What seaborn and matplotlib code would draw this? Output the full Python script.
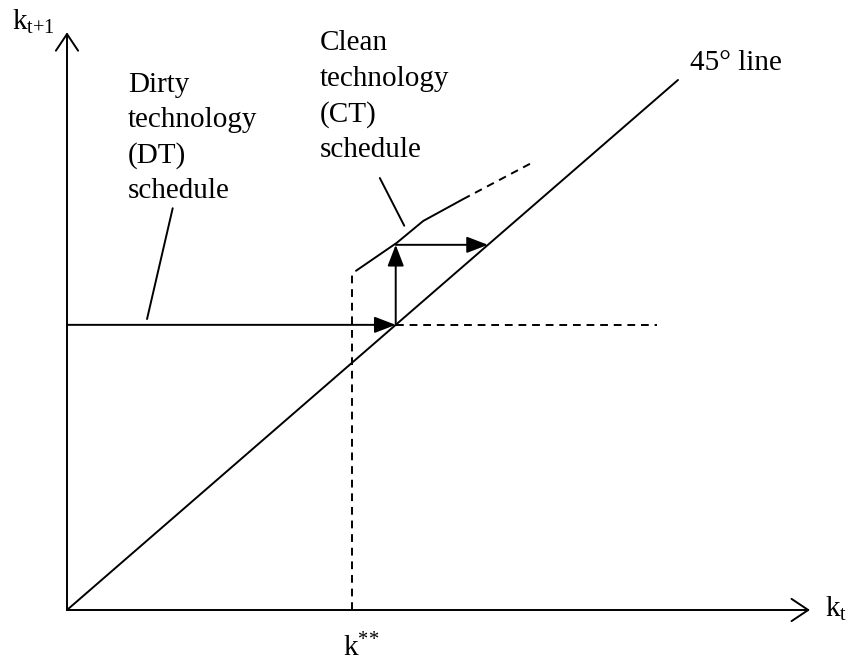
import numpy as np
import pandas as pd
import matplotlib.pyplot as plt
import seaborn as sns

# diagram values: k_t on x, k_{t+1} on y (45 degree line is k_{t+1} = k_t)
line45_k = [0.0, 10.0]
dt_level = 5.38          # dirty technology schedule (flat)
dt_dash_end = 9.66
k_star2 = 4.66           # threshold k**
k_star2_top = 6.36
ct_k = [4.73, 5.40, 5.83, 6.48]      # clean technology schedule (solid part)
ct_next = [6.40, 6.93, 7.34, 7.75]
ct_dash_k = [6.48, 7.58]             # clean technology schedule (dashed part)
ct_dash_next = [7.75, 8.42]
step_top = 6.89          # jump onto the CT schedule, then across to 45 line
x_axis_end = 12.16
y_axis_end = 10.9

dt_label = ['Dirty', 'technology', '(DT)', 'schedule']
ct_label = ['Clean', 'technology', '(CT)', 'schedule']

sns.set_theme(style='white')
plt.rcParams['font.family'] = ['Liberation Serif', 'DejaVu Serif']
plt.rcParams['mathtext.fontset'] = 'custom'
plt.rcParams['mathtext.rm'] = 'Liberation Serif'
plt.rcParams['mathtext.it'] = 'Liberation Serif'
plt.rcParams['text.color'] = 'black'

fig = plt.figure(figsize=(8.52, 6.65), dpi=100)
ax = fig.add_axes([0, 0, 1, 1])
ax.set_xlim(-1.0966, 12.848)
ax.set_ylim(-1.0377, 11.509)
ax.axis('off')

lw = 1.4
dash = (0, (4, 3))

# axes with open arrow heads
open_head = dict(arrowstyle='->,head_length=0.6,head_width=0.4', lw=lw,
                 color='black', shrinkA=0, shrinkB=0, mutation_scale=20)
ax.annotate('', xy=(x_axis_end, 0), xytext=(0, 0), arrowprops=open_head)
ax.annotate('', xy=(0, y_axis_end), xytext=(0, 0), arrowprops=open_head)

# 45 degree line
sns.lineplot(x=line45_k, y=line45_k, color='black', lw=lw, ax=ax, sort=False)

# clean technology schedule
sns.lineplot(x=ct_k, y=ct_next, color='black', lw=lw, ax=ax, sort=False)
ax.plot(ct_dash_k, ct_dash_next, color='black', lw=lw, linestyle=dash)

# dashed guides
ax.plot([k_star2, k_star2], [0, k_star2_top], color='black', lw=lw, linestyle=dash)
ax.plot([dt_level, dt_dash_end], [dt_level, dt_level], color='black', lw=lw, linestyle=dash)

# filled arrows: DT schedule, jump up, then across
filled = dict(arrowstyle='-|>,head_length=0.65,head_width=0.25', lw=lw, color='black',
              shrinkA=0, shrinkB=0, mutation_scale=20)
ax.annotate('', xy=(dt_level, dt_level), xytext=(0, dt_level), arrowprops=filled)
ax.annotate('', xy=(dt_level, step_top), xytext=(dt_level, dt_level), arrowprops=filled)
ax.annotate('', xy=(step_top, step_top), xytext=(dt_level, step_top), arrowprops=filled)

# pointer lines to the labels
ax.plot([1.31, 1.73], [5.49, 7.58], color='black', lw=lw)
ax.plot([5.52, 5.12], [7.25, 8.15], color='black', lw=lw)

fs = 21
for i, word in enumerate(dt_label):
    ax.text(1.0, 9.774 - i * 0.67, word, fontsize=fs, ha='left', va='baseline')
for i, word in enumerate(ct_label):
    ax.text(4.14, 10.566 - i * 0.674, word, fontsize=fs, ha='left', va='baseline')
ax.text(10.2, 10.18, '45° line', fontsize=fs, ha='left', va='baseline')
ax.text(-0.9, 10.94, r'$\mathrm{k}_{\mathrm{t{+}1}}$', fontsize=fs, ha='left', va='baseline')
ax.text(12.41, -0.13, r'$\mathrm{k}_{\mathrm{t}}$', fontsize=fs, ha='left', va='baseline')
ax.text(4.52, -0.88, r'$\mathrm{k}^{{*}{*}}$', fontsize=fs, ha='left', va='baseline')

fig.savefig('out.png', dpi=100)
